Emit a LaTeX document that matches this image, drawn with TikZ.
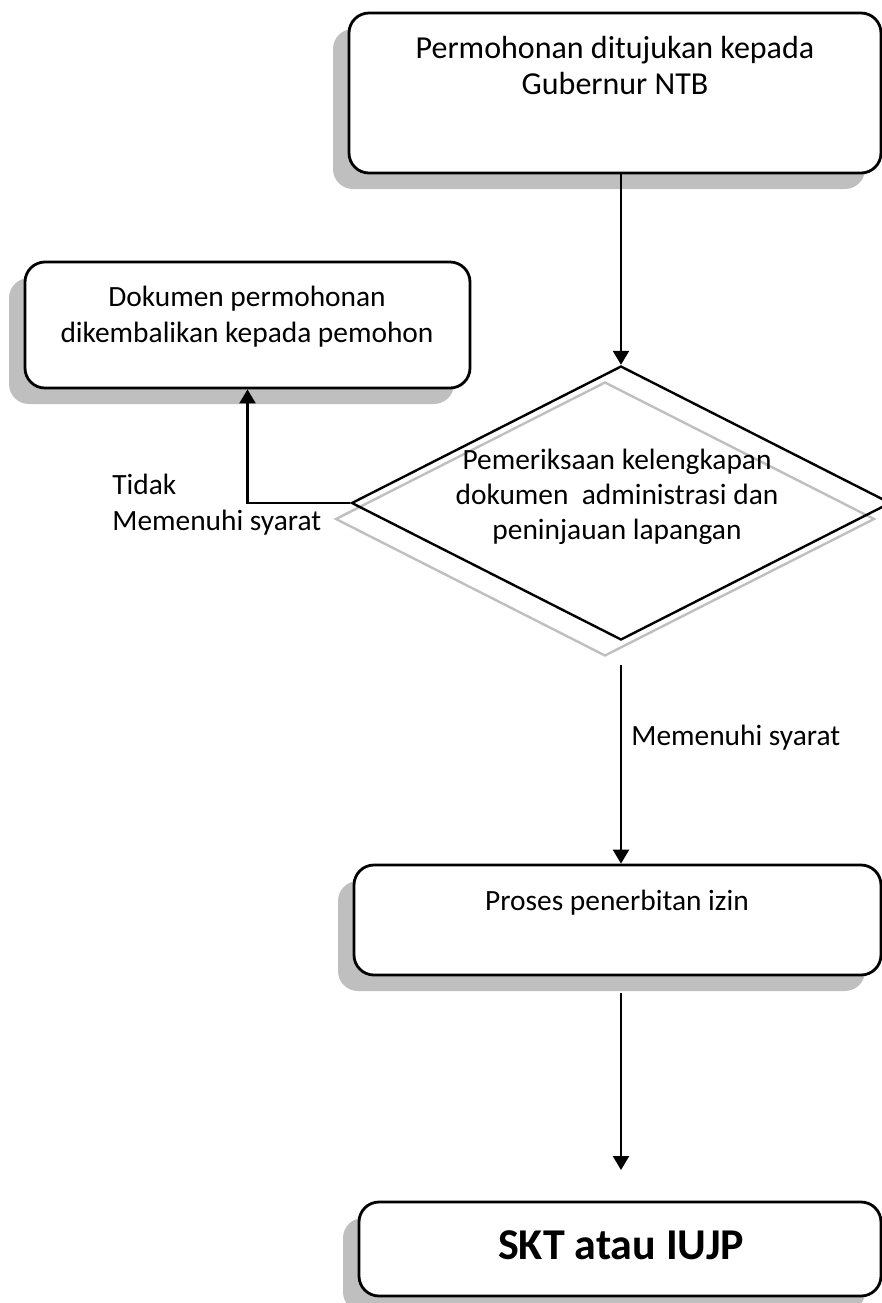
\documentclass[tikz,border=0pt]{standalone}
\usepackage{fontspec}
\setmainfont{Carlito}
\usetikzlibrary{shapes.geometric,shadows,arrows.meta,positioning}

\tikzset{
  kotak/.style={draw,rounded corners=10pt,line width=1.4pt,fill=white,inner sep=0pt,
    drop shadow={shadow xshift=-8pt,shadow yshift=-8pt,fill=black!25,opacity=1}},
  belah/.style={diamond,line width=1.2pt,minimum width=269.5pt,minimum height=137pt,inner sep=0pt},
  teks/.style={align=center,font=\fontsize{14.7}{18}\selectfont,inner sep=0pt},
  panah/.style={-{Triangle[width=8pt,length=7pt]},line width=1.2pt},
}

\begin{document}
\begin{tikzpicture}[x=0.5pt,y=-0.5pt]
    \useasboundingbox (0,0) rectangle (882,1303);

    % kotak-kotak
    \node[kotak,minimum width=266pt,minimum height=80pt]   (permohonan) at (615,93) {};
    \node[kotak,minimum width=222.5pt,minimum height=63pt] (dokumen) at (247.5,325) {};
    \node[kotak,minimum width=263.5pt,minimum height=55pt] (proses) at (617.5,920) {};
    \node[kotak,minimum width=261pt,minimum height=47pt]   (skt) at (620,1249) {};

    % belah ketupat dan bayangannya
    \node[belah,draw=black!25] (cekbayang) at (605,519) {};
    \node[belah,draw] (cek) at (621,503) {};

    % teks
    \node[teks,font=\fontsize{16}{18}\selectfont] (permohonanteks) at (615,65)
        {Permohonan ditujukan kepada\\Gubernur NTB};
    \node[teks] (dokumenteks) at (247,317) {Dokumen permohonan\\dikembalikan kepada pemohon};
    \node[teks,font=\fontsize{14.7}{17.5}\selectfont] (cekteks) at (617,497)
        {Pemeriksaan kelengkapan\\dokumen\ \ administrasi dan\\peninjauan lapangan};
    \node[teks] (prosesteks) at (617,903) {Proses penerbitan izin};
    \node[teks,font=\fontsize{22}{26}\bfseries] (sktteks) at (621,1245) {SKT atau IUJP};
    \node[teks,align=left,anchor=west] (tidak) at (112,505) {Tidak\\Memenuhi syarat};
    \node[teks,anchor=west] (syarat) at (631,738) {Memenuhi syarat};

    % panah
    \coordinate (lolos) at (621,665);
    \coordinate (terbit) at (621,993);
    \coordinate (hasil) at (621,1170);

    \draw[panah] (permohonan.south -| cek.north) -- (cek.north);
    \draw[panah] (cek.west) -| (dokumen.south);
    \draw[panah] (lolos) -- (proses.north -| lolos);
    \draw[panah] (terbit) -- (hasil);

\end{tikzpicture}
\end{document}
